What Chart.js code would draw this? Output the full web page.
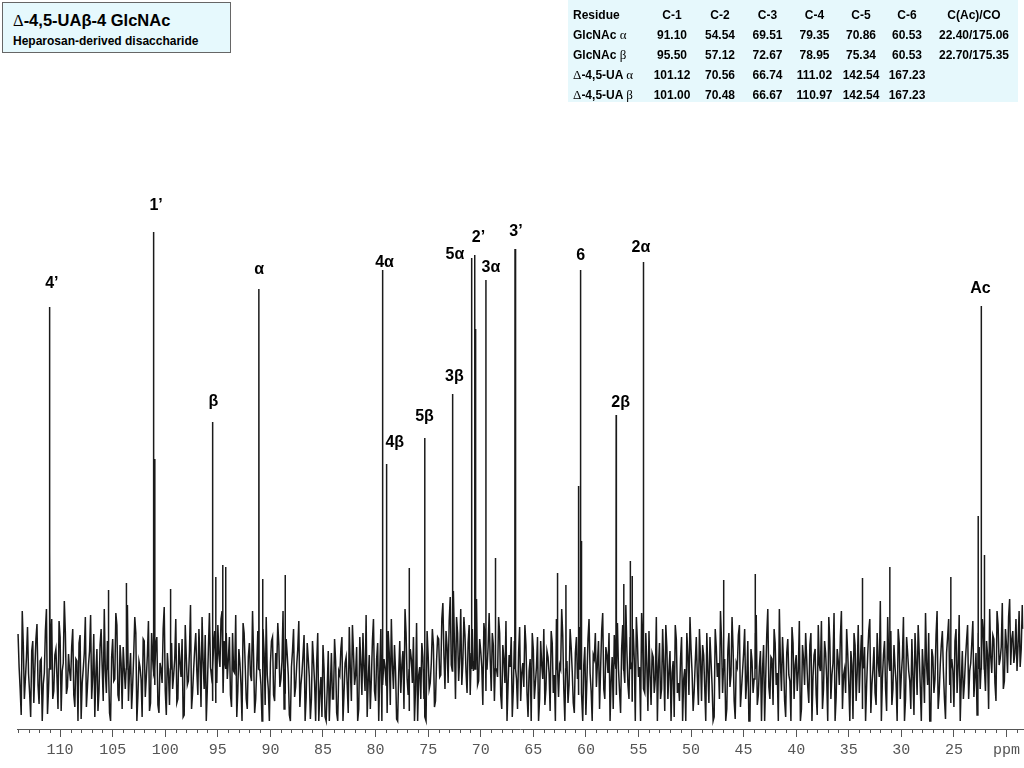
<!DOCTYPE html>
<html>
<head>
	<meta charset="utf-8">
	<title>Δ-4,5-UAβ-4 GlcNAc 13C NMR</title>
	<script src="https://cdn.jsdelivr.net/npm/chart.js@4.4.0/dist/chart.umd.min.js"></script>
	<style>
		body { margin:0; background:#fff; font-family:"Liberation Sans", Arial, sans-serif; }
		#wrap { position:relative; width:1024px; height:768px; overflow:hidden; }
		#myChart { position:absolute; left:0; top:0; }
		.titlebox { position:absolute; left:2px; top:2px; width:227px; height:49px; border:1px solid #666; background:#e6f9fd; }
		.titlebox .t1 { position:absolute; left:10px; top:8px; font-size:16.5px; font-weight:bold; color:#000; white-space:nowrap; }
		.titlebox .t2 { position:absolute; left:10px; top:31px; font-size:12px; font-weight:bold; color:#000; white-space:nowrap; }
		.tblbox { position:absolute; left:568px; top:0; width:450px; height:102px; background:#e6f8fc; }
		.tblbox table { position:absolute; left:0; top:5px; border-collapse:collapse; table-layout:fixed; width:450px; }
		.tblbox td { height:20px; padding:0; font-size:12px; font-weight:bold; text-align:center; white-space:nowrap; color:#000; }
		.tblbox td.res { text-align:left; padding-left:5px; }
		.gr { font-family:"Liberation Serif", "DejaVu Serif", serif; font-weight:normal; font-size:13px; }
	</style>
</head>
<body>
<div id="wrap">
	<canvas id="myChart" width="1024" height="768"></canvas>
	<div class="titlebox">
		<div class="t1"><span class="gr" style="font-size:16.5px">Δ</span>-4,5-UAβ-4 GlcNAc</div>
		<div class="t2">Heparosan-derived disaccharide</div>
	</div>
	<div class="tblbox">
		<table>
			<colgroup><col style="width:80px"><col style="width:48px"><col style="width:48px"><col style="width:47px"><col style="width:47px"><col style="width:46px"><col style="width:46px"><col style="width:88px"></colgroup>
			<tbody id="shiftTable"></tbody>
		</table>
	</div>
</div>
<script type="text/javascript">
	// x axis: chemical shift (ppm), y: intensity in screen units above the axis line
	var X_MIN = 18.4, X_MAX = 114.1;
	var tickValues = [110, 105, 100, 95, 90, 85, 80, 75, 70, 65, 60, 55, 50, 45, 40, 35, 30, 25, 20];

	// baseline noise, one value every 0.2 ppm from 114.0 down to 18.4
	var NOISE_START = 114.0, NOISE_STEP = 0.2;
	var noise = [
		95, 40, 118, 30, 72, 55, 12, 88, 60, 105, 25, 70, 45, 98, 15, 64, 110, 38, 80, 20, 92, 58, 128, 35, 75,
		48, 100, 22, 68, 86, 10, 60, 112, 42, 78, 30, 95, 55, 18, 84, 62, 120, 36, 70, 8, 90, 50, 104, 28, 66,
		82, 40, 124, 58, 20, 74, 96, 34, 62, 12, 88, 52, 108, 26, 70, 44, 92, 16, 60, 100, 38, 76, 24, 86, 54,
		110, 30, 66, 90, 14, 72, 48, 124, 36, 80, 58, 100, 22, 68, 94, 40, 116, 52, 84, 26, 104, 62, 118, 88, 96,
		70, 34, 96, 56, 12, 80, 44, 106, 64, 20, 86, 48, 72, 30, 98, 58, 8, 76, 112, 40, 66, 92, 28, 60, 84,
		50, 118, 36, 74, 14, 62, 100, 42, 80, 22, 56, 94, 32, 70, 10, 88, 46, 66, 8, 52, 84, 12, 40, 8, 76,
		30, 68, 8, 54, 92, 36, 72, 16, 60, 104, 44, 82, 20, 66, 96, 38, 12, 74, 50, 110, 28, 86, 58, 8, 70,
		44, 98, 24, 64, 84, 10, 56, 36, 78, 120, 50, 18, 70, 92, 40, 8, 62, 86, 30, 8, 74, 46, 100, 22, 68,
		90, 54, 126, 40, 82, 108, 64, 138, 30, 96, 72, 44, 112, 58, 86, 34, 100, 68, 130, 48, 78, 24, 94, 60, 116,
		38, 84, 70, 52, 96, 20, 70, 108, 44, 62, 12, 88, 50, 76, 28, 66, 104, 36, 58, 8, 80, 46, 92, 30, 64,
		100, 40, 72, 18, 86, 54, 110, 32, 60, 94, 8, 68, 44, 82, 26, 76, 50, 102, 36, 64, 14, 90, 56, 8, 70,
		42, 88, 60, 116, 30, 74, 96, 48, 20, 66, 106, 38, 80, 58, 124, 44, 92, 28, 70, 112, 52, 8, 84, 36, 62,
		98, 24, 72, 50, 8, 86, 40, 64, 104, 30, 78, 56, 12, 90, 46, 70, 8, 60, 96, 34, 80, 18, 66, 52, 100,
		28, 74, 8, 58, 92, 44, 12, 82, 66, 118, 36, 70, 20, 96, 54, 80, 10, 62, 104, 40, 76, 30, 88, 8, 68,
		50, 114, 34, 78, 60, 8, 94, 42, 72, 24, 86, 56, 120, 38, 66, 12, 90, 48, 102, 30, 74, 58, 8, 84, 44,
		70, 26, 96, 52, 80, 14, 64, 108, 40, 76, 8, 88, 54, 116, 32, 68, 92, 20, 60, 100, 46, 78, 10, 84, 56,
		36, 94, 62, 8, 74, 110, 44, 82, 24, 66, 128, 50, 88, 18, 70, 98, 40, 62, 8, 86, 54, 112, 30, 76, 48,
		90, 14, 68, 104, 42, 80, 26, 64, 96, 8, 72, 50, 118, 36, 84, 58, 10, 92, 44, 70, 22, 100, 62, 8, 78,
		46, 88, 30, 66, 108, 52, 14, 82, 60, 96, 38, 74, 120, 56, 90, 28, 104, 70, 126, 48, 84, 112, 64, 98, 76,
		58, 118, 80, 100
	];
	// the in-between samples, 113.9 down to 18.5
	var NOISE_B_START = 113.9;
	var noiseB = [
		62, 14, 84, 50, 102, 36, 78, 26, 90, 44, 68, 8, 56, 120, 40, 86, 30, 74, 52, 108, 18, 66, 96, 42, 58,
		82, 34, 70, 8, 94, 46, 76, 22, 64, 114, 52, 12, 80, 38, 100, 28, 58, 88, 16, 72, 48, 116, 34, 84, 20,
		60, 98, 28, 76, 44, 112, 8, 68, 50, 90, 32, 74, 18, 96, 56, 84, 24, 66, 46, 122, 14, 58, 92, 40, 70,
		26, 86, 52, 12, 104, 44, 78, 20, 60, 96, 34, 70, 112, 40, 8, 80, 62, 28, 98, 46, 74, 110, 36, 64, 50,
		92, 22, 58, 114, 38, 66, 8, 96, 30, 72, 54, 118, 16, 62, 82, 44, 100, 24, 54, 8, 88, 34, 76, 106, 42,
		68, 20, 90, 54, 8, 78, 32, 64, 108, 44, 74, 8, 86, 52, 30, 68, 8, 96, 36, 12, 60, 8, 78, 42, 30,
		90, 16, 58, 80, 8, 66, 44, 102, 28, 76, 54, 8, 92, 34, 60, 114, 48, 20, 88, 38, 70, 8, 100, 44, 62,
		16, 76, 110, 40, 58, 8, 88, 64, 20, 96, 34, 80, 46, 8, 106, 54, 30, 72, 12, 98, 40, 66, 84, 28, 92,
		52, 110, 74, 98, 46, 132, 58, 86, 112, 48, 120, 66, 94, 36, 104, 76, 58, 118, 44, 90, 62, 106, 38, 82, 70,
		96, 28, 60, 112, 34, 84, 46, 8, 74, 92, 40, 66, 20, 102, 56, 42, 84, 12, 70, 96, 30, 62, 8, 88, 50,
		24, 78, 56, 98, 36, 8, 84, 64, 120, 40, 72, 26, 100, 58, 16, 92, 34, 68, 8, 82, 50, 110, 38, 74, 96,
		66, 20, 98, 40, 82, 56, 8, 72, 94, 34, 60, 16, 104, 46, 78, 30, 64, 100, 8, 88, 62, 116, 40, 96, 18,
		54, 76, 36, 112, 62, 30, 100, 18, 82, 58, 8, 68, 104, 36, 28, 92, 50, 8, 74, 112, 56, 38, 92, 24, 70,
		84, 42, 96, 26, 68, 8, 100, 52, 30, 88, 60, 8, 78, 42, 112, 28, 66, 94, 22, 58, 100, 48, 8, 80, 36,
		96, 24, 62, 8, 84, 50, 120, 30, 70, 100, 44, 8, 66, 92, 28, 76, 54, 8, 86, 64, 38, 108, 20, 70, 96,
		42, 84, 8, 74, 34, 104, 58, 20, 88, 50, 112, 30, 66, 8, 80, 44, 118, 54, 36, 76, 8, 64, 96, 28, 104,
		66, 20, 82, 44, 98, 16, 60, 36, 96, 52, 8, 74, 40, 112, 58, 24, 84, 46, 100, 30, 72, 8, 92, 58, 20,
		52, 96, 34, 76, 8, 58, 116, 44, 8, 80, 36, 94, 20, 64, 98, 30, 76, 110, 26, 58, 88, 36, 114, 48, 30,
		70, 104, 58, 86, 32, 76, 96, 40, 110, 64, 88, 20, 72, 94, 46, 118, 64, 82, 40, 100, 56, 130, 90, 66, 110,
		84, 62, 124
	];

	// resonances: position (ppm) and peak height
	var peakPpm =    [111.02, 110.97, 101.12, 101.00, 95.50, 91.10, 79.35, 78.95, 75.34, 72.67, 70.86, 70.56, 70.48, 69.51, 66.74, 66.67, 60.70, 60.53, 60.45, 57.12, 54.54, 22.70, 22.40, 22.10];
	var peakHeight = [422,    178,    497,    270,    307,   440,   459,   265,   291,   335,   471,   474,   400,   449,   480,   333,   243,   459,   188,   314,   467,   213,   423,   174];
	// smaller lines standing out of the noise
	var minorPpm =    [105.4, 103.7, 99.5, 95.2, 94.53, 94.25, 90.73, 88.6, 76.8, 68.6, 62.7, 61.9, 56.4, 55.77, 55.6, 46.9, 43.9, 33.7, 31.1, 25.3];
	var minorHeight = [139,   146,   140,  152,  164,   162,   150,   154,  161,  171,  156,  144,  145,  168,   153,  149,  155,  151,  162,  152];

	// assignments written above the peaks (centre of text, in ppm / intensity)
	var labelText =  ["4’",   "1’",   "β",   "α",   "4α",  "4β",  "5β",  "3β",  "5α",  "2’",  "3α",  "3’",  "6",   "2β",  "2α",  "Ac"];
	var labelPpm =   [110.79, 100.87, 95.43, 91.06, 79.15, 78.18, 75.35, 72.50, 72.45, 70.22, 69.03, 66.65, 60.50, 56.70, 54.77, 22.48];
	var labelLevel = [445,    523,    327,   459,   466,   286,   312,   352,   474,   491,   461,   497,   473,   326,   481,   440];

	// table of shifts
	var tableHead = ["Residue", "C-1", "C-2", "C-3", "C-4", "C-5", "C-6", "C(Ac)/CO"];
	var tableRes = ["GlcNAc <span class='gr'>α</span>", "GlcNAc <span class='gr'>β</span>", "<span class='gr'>Δ</span>-4,5-UA <span class='gr'>α</span>", "<span class='gr'>Δ</span>-4,5-UA <span class='gr'>β</span>"];
	var tableC1 = ["91.10", "95.50", "101.12", "101.00"];
	var tableC2 = ["54.54", "57.12", "70.56", "70.48"];
	var tableC3 = ["69.51", "72.67", "66.74", "66.67"];
	var tableC4 = ["79.35", "78.95", "111.02", "110.97"];
	var tableC5 = ["70.86", "75.34", "142.54", "142.54"];
	var tableC6 = ["60.53", "60.53", "167.23", "167.23"];
	var tableAc = ["22.40/175.06", "22.70/175.35", "", ""];

	function buildTable() {
		var body = document.getElementById('shiftTable');
		var html = '<tr>';
		tableHead.forEach(function(h, i) {
			html += '<td' + (i == 0 ? ' class="res"' : '') + '>' + h + '</td>';
		});
		html += '</tr>';
		for (var r = 0; r < tableRes.length; r++) {
			html += '<tr><td class="res">' + tableRes[r] + '</td>';
			[tableC1, tableC2, tableC3, tableC4, tableC5, tableC6, tableAc].forEach(function(col) {
				html += '<td>' + col[r] + '</td>';
			});
			html += '</tr>';
		}
		body.innerHTML = html;
	}

	var FLANK = 60; // foot of each line
	function buildSpectrum() {
		var pts = [];
		noise.forEach(function(v, i) {
			pts.push({ x: +(NOISE_START - i * NOISE_STEP).toFixed(2), y: v });
		});
		noiseB.forEach(function(v, i) {
			pts.push({ x: +(NOISE_B_START - i * NOISE_STEP).toFixed(2), y: v });
		});
		function addLine(p, h) {
			pts.push({ x: p + 0.02, y: FLANK });
			pts.push({ x: p, y: h });
			pts.push({ x: p - 0.02, y: FLANK });
		}
		peakPpm.forEach(function(p, i) { addLine(p, peakHeight[i]); });
		minorPpm.forEach(function(p, i) { addLine(p, minorHeight[i]); });
		pts.sort(function(a, b) { return b.x - a.x; });
		return pts;
	}

	// small ticks every 1 ppm
	var minorTicks = {
		id: 'minorTicks',
		afterDraw: function(chart) {
			var xs = chart.scales.x, ctx = chart.ctx, y0 = chart.chartArea.bottom;
			ctx.save();
			ctx.strokeStyle = '#555';
			ctx.lineWidth = 1;
			ctx.beginPath();
			for (var v = Math.ceil(X_MIN); v <= Math.floor(X_MAX); v++) {
				if (v % 5 == 0) continue;
				var px = Math.round(xs.getPixelForValue(v)) + 0.5;
				ctx.moveTo(px, y0);
				ctx.lineTo(px, y0 + 4);
			}
			ctx.stroke();
			ctx.restore();
		}
	};

	var peakLabels = {
		id: 'peakLabels',
		afterDatasetsDraw: function(chart) {
			var xs = chart.scales.x, ys = chart.scales.y, ctx = chart.ctx;
			ctx.save();
			ctx.fillStyle = '#000';
			ctx.font = 'bold 16px "Liberation Sans", Arial, sans-serif';
			ctx.textAlign = 'center';
			ctx.textBaseline = 'middle';
			labelText.forEach(function(t, i) {
				ctx.fillText(t, xs.getPixelForValue(labelPpm[i]), ys.getPixelForValue(labelLevel[i]));
			});
			ctx.restore();
		}
	};

	buildTable();
	var ctx = document.getElementById('myChart').getContext('2d');
	var chart = new Chart(ctx, {
		type: 'line',
		data: {
			datasets: [{
				data: buildSpectrum(),
				borderColor: '#1a1a1a',
				borderWidth: 1.5,
				pointRadius: 0,
				tension: 0,
				fill: false
			}]
		},
		options: {
			responsive: false,
			animation: false,
			devicePixelRatio: 1,
			layout: { padding: { left: 17, right: 0, top: 129, bottom: 0 } },
			plugins: { legend: { display: false }, tooltip: { enabled: false } },
			scales: {
				x: {
					type: 'linear',
					reverse: true,
					min: X_MIN,
					max: X_MAX,
					afterBuildTicks: function(scale) {
						scale.ticks = tickValues.map(function(v) { return { value: v }; });
					},
					afterFit: function(scale) { scale.height = 39; },
					ticks: {
						autoSkip: false,
						maxRotation: 0,
						padding: 4,
						color: '#555',
						font: { family: '"Liberation Mono", "DejaVu Sans Mono", monospace', size: 15 },
						callback: function(v) { return v == 20 ? 'ppm' : v; }
					},
					grid: { drawOnChartArea: false, drawTicks: true, tickLength: 8, color: '#555' },
					border: { display: true, color: '#555', width: 1 }
				},
				y: {
					display: false,
					min: 0,
					max: 600
				}
			}
		},
		plugins: [minorTicks, peakLabels]
	});
</script>
</body>
</html>
